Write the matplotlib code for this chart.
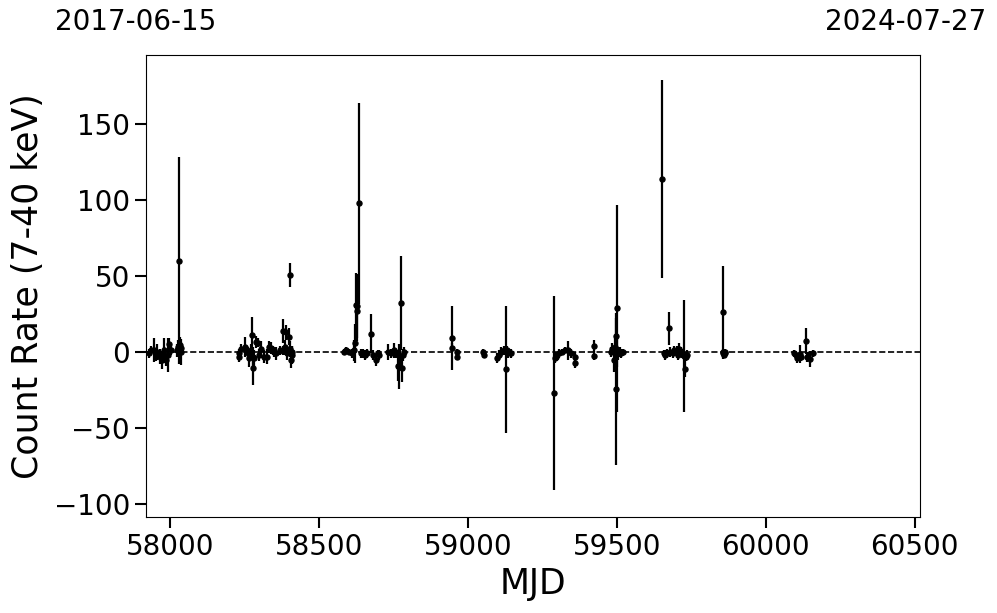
import matplotlib
matplotlib.use("Agg")
import matplotlib.pyplot as plt

# Light curve values (MJD, rate, 1-sigma error)

mjd = [
    57930, 57935, 57947, 57952, 57956, 57965, 57973, 57978, 57980, 57986,
    57992, 57997, 58003, 58022, 58027, 58031, 58033, 58035, 58036,
    58230, 58232, 58238, 58250, 58258, 58262, 58266, 58270, 58275, 58277,
    58279, 58282, 58288, 58294, 58298, 58305, 58315, 58327, 58333, 58338,
    58345, 58349, 58355, 58370, 58378, 58380, 58385, 58389, 58392, 58394,
    58400, 58402, 58404, 58406, 58408, 58410,
    58584, 58592, 58600, 58612, 58618, 58621, 58624, 58627, 58629, 58635,
    58640, 58647, 58655, 58661, 58674, 58680, 58691, 58697, 58701,
    58730, 58741, 58752, 58760, 58766, 58769, 58772, 58775, 58778, 58782,
    58785,
    58946, 58948, 58962, 58963,
    59052, 59054, 59099, 59105, 59110, 59120, 59127, 59130, 59135, 59144,
    59289, 59293, 59297, 59305, 59315, 59325, 59337, 59345, 59359, 59360,
    59423, 59424,
    59479, 59485, 59490, 59494, 59496, 59498, 59499, 59501, 59505, 59510,
    59513, 59520,
    59650, 59658, 59662, 59668, 59675, 59680, 59687, 59693, 59701, 59706,
    59710, 59714, 59720, 59727, 59729, 59733, 59736,
    59856, 59857, 59858, 59860, 59862, 59864,
    60094, 60100, 60106, 60110, 60114, 60120, 60135, 60137, 60143, 60150,
    60158,
]

rate = [
    -1, 1, 1.3, -2, 0, -3, -5.3, -2, 1.3, -5.3,
    -2, 5.2, 1, 1, 3, 60, 4.6, 0, 2.6,
    -3.5, -1, 2, 3.5, 1, -1, -4, 0, 11.2, -3,
    -10.7, -4, 6.8, 6, -2, 1.8, -3, -3, 3, 2.4,
    1, 0, -1, 1, 0.8, 13.8, 3, 13, 1, -1,
    10, 50.6, 2, -5.3, -2, 0,
    0, 1, 0, -1, 1, 5.7, 31, 30, 27, 97.8,
    -1, -1, -2, -1, 12, -2, -5.3, -1, -2,
    0, -1, 1, -1, -9, -9.6, -3, 32, -10.7, -2,
    0,
    9, 2.8, 0, -3,
    0, -2, -4, -2, 0, 1, -11.5, 1, -1, -1,
    -27, -4, -3, -1, 0, 1, 1, -1, -3, -7.5,
    4, -2.6,
    0, 2, -5.3, 3, 10.5, -24.6, 28.7, 0, -1, 0,
    -1, 0,
    113.8, -1, -2, -1, 15.6, 0, -1, 1, 0, -2,
    2, 0, -1, -2.5, -11.2, -3, -2,
    26, 0, -1, -2, 0, -1,
    -1, -2, -4, -3, -1.5, -3, 7.2, -3.5, -3, -4.6,
    -1,
]

err = [
    3, 3, 8, 4, 5, 5, 6, 5, 8, 4,
    11, 4, 3, 4, 5, 68, 5, 8.6, 4,
    3, 3, 3, 6.5, 3, 4, 6, 5, 11.6, 6,
    11, 5, 4, 3, 4, 5.5, 4, 5, 4, 4,
    3, 3, 4, 3, 3, 7.7, 5, 5, 3, 4,
    5.5, 8, 5, 5.5, 6, 4,
    2, 2, 2, 3, 7, 13, 21, 21, 20, 66,
    3, 3, 3, 3, 13, 3, 4, 2, 3,
    5, 3, 5, 3, 10, 15, 6, 31, 9, 4,
    3,
    21, 3, 2, 2,
    2, 2, 3, 3, 3, 3, 42, 3, 3, 3,
    64, 3, 3, 3, 2, 2, 6, 3, 3, 3,
    4, 3,
    3, 4, 8, 6, 12, 50, 68, 10, 4, 3,
    3, 2,
    65, 2, 3, 3, 11, 3, 3, 3, 4, 3,
    4, 3, 3, 37, 5, 3, 3,
    30.6, 2, 2, 2, 2, 2,
    2, 2, 3, 2, 6, 3, 8.4, 3, 3, 5.5,
    2,
]

start_mjd = 57919
end_mjd = 60518
start_date = "2017-06-15"
end_date = "2024-07-27"

fig, ax = plt.subplots(figsize=(9.97, 6.13), dpi=100)
fig.subplots_adjust(left=0.1464, right=0.9228, top=0.9103, bottom=0.1566)

ax.errorbar(
    mjd,
    rate,
    yerr=err,
    fmt="o",
    color="black",
    ms=3.6,
    elinewidth=1.6,
    capsize=0
)

ax.axhline(0, color="black", linestyle="--", linewidth=1.2, zorder=0)

ax.set_xlim(start_mjd, end_mjd)
ax.set_ylim(-108.6, 195.4)
ax.set_xticks([58000, 58500, 59000, 59500, 60000, 60500])
ax.set_yticks([-100, -50, 0, 50, 100, 150])

ax.tick_params(axis="both", labelsize=20, length=8, width=1.5)

ax.set_xlabel("MJD", fontsize=25)
ax.set_ylabel("Count Rate (7-40 keV)", fontsize=25, labelpad=6)

fig.text(0.1364, 0.964, start_date, fontsize=20, ha="center", va="center")
fig.text(0.908, 0.964, end_date, fontsize=20, ha="center", va="center")

fig.savefig("out.png", dpi=100)
